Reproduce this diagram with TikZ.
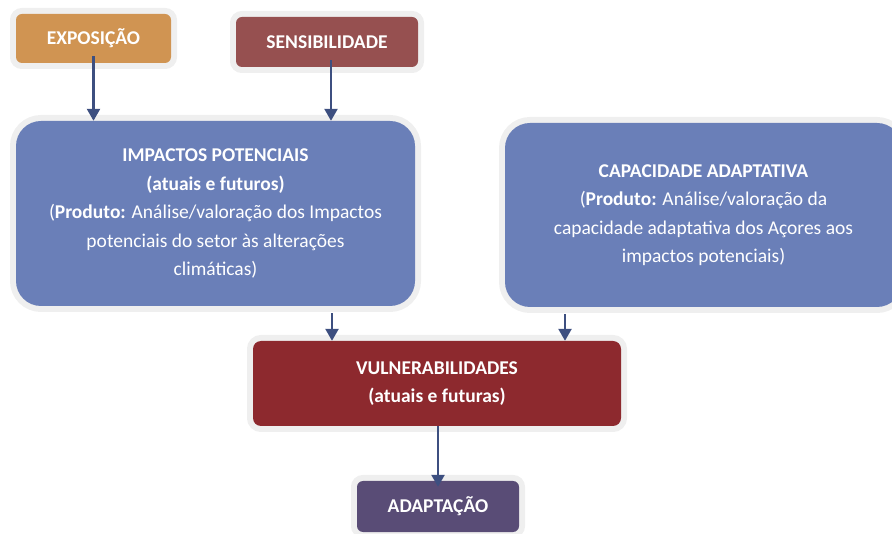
\documentclass[tikz,border=0pt]{standalone}
\usepackage{fontspec}
\setmainfont{Carlito}
\usetikzlibrary{arrows.meta}
\definecolor{expocol}{HTML}{D09452}
\definecolor{senscol}{HTML}{965050}
\definecolor{impcol}{HTML}{6A7FB8}
\definecolor{vulncol}{HTML}{8D292E}
\definecolor{adaptcol}{HTML}{594C76}
\definecolor{arrowcol}{HTML}{3D4F80}
\definecolor{framecol}{HTML}{EFEFEF}
\tikzset{
  box/.style={preaction={draw=framecol, line width=12pt}, text=white, align=center,
    inner sep=0pt, font=\fontsize{19.5}{28.5}\selectfont},
  flow/.style={draw=arrowcol, line width=2.5pt, -{Triangle[width=13pt,length=12pt]}}
}
\begin{document}
\begin{tikzpicture}[x=1pt, y=-1pt]
  \useasboundingbox (0,0) rectangle (892,534);
  \node[box, fill=expocol, rounded corners=6pt, minimum width=155pt, minimum height=49pt] (expo) at (93.5,38.5) {\textbf{EXPOSIÇÃO}};
  \node[box, fill=senscol, rounded corners=6pt, minimum width=182pt, minimum height=50pt] (sens) at (327,42) {\textbf{SENSIBILIDADE}};
  \node[box, fill=impcol, rounded corners=25pt, minimum width=399pt, minimum height=185pt] (imp) at (215.5,213.5)
    {\textbf{IMPACTOS POTENCIAIS}\\ \textbf{(atuais e futuros)}\\ (\textbf{Produto:} Análise/valoração dos Impactos\\ potenciais do setor às alterações\\ climáticas)};
  \node[box, fill=impcol, rounded corners=25pt, minimum width=397pt, minimum height=184pt] (cap) at (703.5,215)
    {\textbf{CAPACIDADE ADAPTATIVA}\\ (\textbf{Produto:} Análise/valoração da\\ capacidade adaptativa dos Açores aos\\ impactos potenciais)};
  \node[box, fill=vulncol, rounded corners=8pt, minimum width=368pt, minimum height=85pt] (vuln) at (437,383.5)
    {\textbf{VULNERABILIDADES}\\ \textbf{(atuais e futuras)}};
  \node[box, fill=adaptcol, rounded corners=6pt, minimum width=162pt, minimum height=51pt] (adapt) at (438,506.5) {\textbf{ADAPTAÇÃO}};
  % setas
  \draw[flow] ([yshift=7pt]expo.south) -- (expo.south |- imp.north);
  \draw[flow] ([xshift=4pt, yshift=7pt]sens.south) -- ([xshift=4pt]sens.south |- imp.north);
  \draw[flow] ([xshift=-105pt]vuln.north |- imp.south) ++(0,7) -- ([xshift=-105pt]vuln.north);
  \draw[flow] ([xshift=128pt]vuln.north |- cap.south) ++(0,7) -- ([xshift=128pt]vuln.north);
  \draw[flow] (adapt.north |- vuln.south) -- ([yshift=-6pt]adapt.north);
\end{tikzpicture}
\end{document}
